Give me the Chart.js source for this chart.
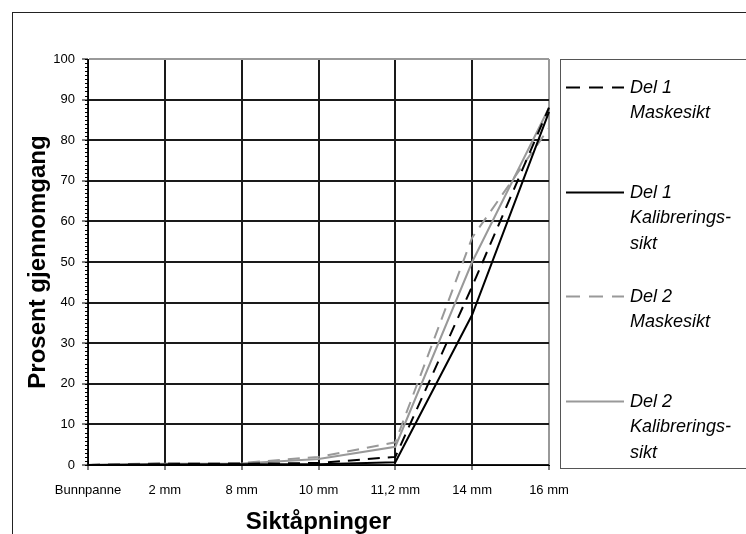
<!DOCTYPE html>
<html>
<head>
<meta charset="utf-8">
<script src="https://cdn.jsdelivr.net/npm/chart.js@4"></script>
<style>
  html, body { margin: 0; padding: 0; background: #fff; }
  #wrap { width: 746px; height: 534px; }
</style>
</head>
<body>
<div id="wrap"><canvas id="sieve-chart" width="746" height="534"></canvas></div>
<script>
// Siktåpninger / prosent gjennomgang
var categories = ['Bunnpanne', '2 mm', '8 mm', '10 mm', '11,2 mm', '14 mm', '16 mm'];
var del1Maske = [0, 0.2, 0.3, 0.5, 2, 44, 88];
var del1Kalib = [0, 0.1, 0.2, 0.2, 0.7, 37, 87];
var del2Maske = [0, 0.5, 0.5, 2, 5.6, 56, 83];
var del2Kalib = [0, 0.3, 0.4, 1.5, 4.5, 50, 88];
var legendLabels = [
    ['Del 1', 'Maskesikt'],
    ['Del 1', 'Kalibrerings-', 'sikt'],
    ['Del 2', 'Maskesikt'],
    ['Del 2', 'Kalibrerings-', 'sikt']
];

var FONT = '"Liberation Sans", Arial, sans-serif';

// frame, legend box and y minor ticks
var decorPlugin = {
    id: 'decor',
    beforeDraw: function (chart) {
        var c = chart.ctx;
        c.save();
        c.strokeStyle = '#222';
        c.lineWidth = 1;
        c.strokeRect(12.5, 12.5, 900, 700);
        c.restore();
    },
    afterDraw: function (chart) {
        var c = chart.ctx;
        var y = chart.scales.y;
        c.save();
        // minor ticks
        c.strokeStyle = '#000';
        c.lineWidth = 1;
        c.beginPath();
        for (var v = 0; v <= 100; v++) {
            var py = Math.round(y.getPixelForValue(v)) + 0.5;
            c.moveTo(y.right - 3, py);
            c.lineTo(y.right, py);
        }
        c.stroke();

        // legend box
        c.strokeStyle = '#555';
        c.strokeRect(560.5, 59.5, 400, 409);
        var top = 87, step = 104.5;
        chart.data.datasets.forEach(function (ds, i) {
            var ly = Math.round(top + i * step) + 0.5;
            c.strokeStyle = ds.borderColor;
            c.lineWidth = ds.borderWidth;
            c.setLineDash(ds.borderDash ? [14, 9] : []);
            c.beginPath();
            c.moveTo(566, ly);
            c.lineTo(624, ly);
            c.stroke();
            c.setLineDash([]);
            c.fillStyle = '#000';
            c.font = 'italic 18px ' + FONT;
            c.textBaseline = 'middle';
            c.textAlign = 'left';
            legendLabels[i].forEach(function (t, j) {
                c.fillText(t, 630, ly + j * 25.5);
            });
        });
        c.restore();
    }
};

var ctx = document.getElementById('sieve-chart');
new Chart(ctx, {
    type: 'line',
    data: {
        labels: categories,
        datasets: [{
            label: 'Del 1 Maskesikt',
            data: del1Maske,
            borderColor: '#000',
            borderWidth: 2,
            borderDash: [12, 8]
        }, {
            label: 'Del 1 Kalibreringssikt',
            data: del1Kalib,
            borderColor: '#000',
            borderWidth: 2
        }, {
            label: 'Del 2 Maskesikt',
            data: del2Maske,
            borderColor: '#999',
            borderWidth: 2,
            borderDash: [12, 8]
        }, {
            label: 'Del 2 Kalibreringssikt',
            data: del2Kalib,
            borderColor: '#999',
            borderWidth: 2
        }]
    },
    options: {
        responsive: false,
        animation: false,
        layout: { padding: { left: 12, top: 59, right: 197, bottom: 0 } },
        elements: {
            point: { radius: 0 },
            line: { tension: 0 }
        },
        plugins: {
            legend: { display: false },
            tooltip: { enabled: false }
        },
        scales: {
            x: {
                offset: false,
                afterFit: function (s) { s.height = 69; },
                grid: {
                    color: function (c) { return c.index === categories.length - 1 ? '#999' : '#1a1a1a'; },
                    lineWidth: 2,
                    tickLength: 5,
                    tickColor: '#000',
                    tickWidth: 1
                },
                border: { color: '#000', width: 1 },
                ticks: {
                    color: '#000',
                    font: { family: FONT, size: 13 },
                    maxRotation: 0,
                    autoSkip: false,
                    padding: 13
                },
                title: {
                    display: true,
                    text: 'Siktåpninger',
                    color: '#000',
                    font: { family: FONT, size: 24, weight: 'bold' },
                    padding: { top: 10, bottom: -3 }
                }
            },
            y: {
                min: 0,
                max: 100,
                afterFit: function (s) { s.width = 76; },
                grid: {
                    color: function (c) { return c.tick && c.tick.value === 100 ? '#999' : '#1a1a1a'; },
                    lineWidth: 2,
                    tickLength: 6,
                    tickColor: '#000',
                    tickWidth: 1
                },
                border: { color: '#000', width: 1 },
                ticks: {
                    stepSize: 10,
                    color: '#000',
                    font: { family: FONT, size: 13 },
                    padding: 7
                },
                title: {
                    display: true,
                    text: 'Prosent gjennomgang',
                    color: '#000',
                    font: { family: FONT, size: 24, weight: 'bold' },
                    padding: { top: 12, bottom: 0 }
                }
            }
        }
    },
    plugins: [decorPlugin]
});
</script>
</body>
</html>
